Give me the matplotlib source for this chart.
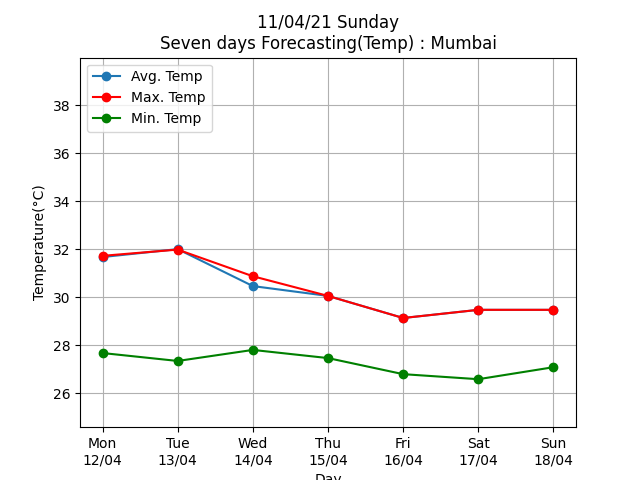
import matplotlib
matplotlib.use("Agg")
import matplotlib.pyplot as plt

days = ["Mon\n12/04", "Tue\n13/04", "Wed\n14/04", "Thu\n15/04", "Fri\n16/04", "Sat\n17/04", "Sun\n18/04"]
avg_temp = [31.67, 32.0, 30.46, 30.05, 29.13, 29.47, 29.47]
max_temp = [31.72, 31.98, 30.87, 30.05, 29.13, 29.47, 29.47]
min_temp = [27.67, 27.34, 27.8, 27.46, 26.79, 26.58, 27.08]

fig, ax = plt.subplots(figsize=(6.4, 4.8), dpi=100)
x = range(len(days))
ax.plot(x, avg_temp, marker="o", label="Avg. Temp")
ax.plot(x, max_temp, marker="o", color="red", label="Max. Temp")
ax.plot(x, min_temp, marker="o", color="green", label="Min. Temp")
ax.set_xticks(list(x))
ax.set_xticklabels(days)
ax.set_ylim(min(min_temp) - 2, max(max_temp) + 8)
ax.set_xlabel("Day")
ax.set_ylabel("Temperature(°C)")
ax.set_title("11/04/21 Sunday\nSeven days Forecasting(Temp) : Mumbai")
ax.grid(True)
ax.legend(loc="upper left")
fig.savefig("out.png")
